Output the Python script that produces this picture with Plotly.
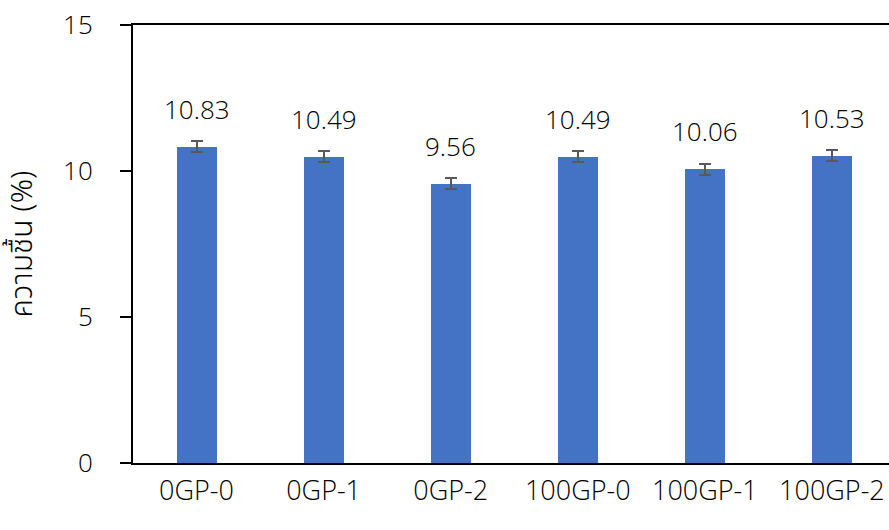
import plotly.graph_objects as go

# Sample groups and measured moisture content (%)
categories = ["0GP-0", "0GP-1", "0GP-2", "100GP-0", "100GP-1", "100GP-2"]
moisture = [10.83, 10.49, 9.56, 10.49, 10.06, 10.53]
moisture_err = [0.19, 0.18, 0.19, 0.18, 0.19, 0.19]
y_ticks = [0, 5, 10, 15]

BAR_COLOR = "#4472C4"
FONT = "Open Sans, Noto Sans, DejaVu Sans, sans-serif"
THAI_FONT = "Noto Sans Thai, Noto Sans Thai Looped, Loma, Garuda, Noto Sans, sans-serif"
WEIGHT = 300

fig = go.Figure()
fig.add_trace(go.Bar(
    x=categories,
    y=moisture,
    width=0.315,
    marker=dict(color=BAR_COLOR, line=dict(width=0)),
    error_y=dict(type="data", array=moisture_err, visible=True,
                 color="#595959", thickness=2, width=6),
    hoverinfo="x+y",
))

# value labels above each bar
for c, v in zip(categories, moisture):
    fig.add_annotation(x=c, y=v, text=f"{v:.2f}", showarrow=False,
                       yshift=38,
                       font=dict(size=26, color="#000000", family=FONT, weight=WEIGHT))

fig.update_layout(
    width=889, height=530,
    margin=dict(l=133, r=0, t=25, b=67),
    plot_bgcolor="white", paper_bgcolor="white",
    showlegend=False,
    font=dict(family=FONT, color="#000000"),
    bargap=0,
)
fig.update_xaxes(
    type="category",
    range=[-0.5, 5.449],
    showline=True, linecolor="#000000", linewidth=2, mirror=True,
    ticks="", showgrid=False,
    tickfont=dict(size=27, family=FONT, weight=WEIGHT),
    ticklabelstandoff=3,
)
fig.update_yaxes(
    range=[0, 15], tickvals=y_ticks,
    showline=True, linecolor="#000000", linewidth=2,
    ticks="outside", ticklen=11, tickwidth=1.5, tickcolor="#000000",
    showgrid=False, zeroline=False,
    tickfont=dict(size=26, family=FONT, weight=WEIGHT),
    ticklabelstandoff=22,
    title=dict(text="ความชื้น (%)", standoff=22,
               font=dict(size=30, color="#000000", family=THAI_FONT, weight=WEIGHT)),
)

fig.write_html("out.html")
